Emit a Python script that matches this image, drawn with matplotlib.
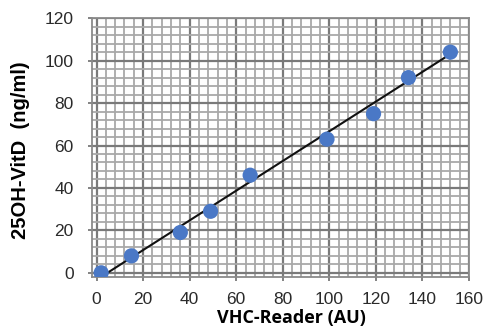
import matplotlib
matplotlib.use('Agg')
import matplotlib.pyplot as plt
from matplotlib.ticker import MultipleLocator
import numpy as np

plt.rcParams['font.family'] = 'Liberation Sans'

# values
vhc_reader = [2, 15, 36, 49, 66, 99, 119, 134, 152]
vitd_ngml = [0, 8, 19, 29, 46, 63, 75, 92, 104]
fit_slope = 0.70
fit_intercept = -3.3
fit_x = [4.7, 152]

x_ticks = [0, 20, 40, 60, 80, 100, 120, 140, 160]
y_ticks = [0, 20, 40, 60, 80, 100, 120]

fig = plt.figure(figsize=(4.86, 3.31), dpi=100)
ax = fig.add_axes([0.189, 0.163, 0.776, 0.782])

ax.set_xlim(-2, 160)
ax.set_ylim(-2, 120)
ax.xaxis.set_minor_locator(MultipleLocator(4))
ax.yaxis.set_minor_locator(MultipleLocator(4))
ax.set_xticks(x_ticks)
ax.set_yticks(y_ticks)

ax.grid(which='minor', color='#a9a9a9', linewidth=1.3)
ax.grid(which='major', color='#7a7a7a', linewidth=1.6)
ax.set_axisbelow(True)

for s in ax.spines.values():
    s.set_color('#8a8a8a')
    s.set_linewidth(1.3)

ax.tick_params(which='major', length=3, width=1.3, color='#7a7a7a',
               labelsize=12.5, labelcolor='#2a2a2a')
ax.tick_params(axis='x', which='major', pad=8)
ax.tick_params(axis='y', which='major', pad=10)
ax.tick_params(which='minor', length=0)

fx = np.array(fit_x)
ax.plot(fx, fit_slope * fx + fit_intercept, color='#111111', linewidth=1.5, zorder=3)
ax.scatter(vhc_reader, vitd_ngml, s=120, color='#4a78c6', edgecolors='none', zorder=4)

ax.set_ylabel('25OH-VitD  (ng/ml)', fontsize=14.5, fontweight='bold')
ax.yaxis.set_label_coords(-0.165, 0.49)
ax.set_xlabel('VHC-Reader (AU)', fontsize=13, fontweight='bold',
              family='Open Sans')
ax.xaxis.set_label_coords(0.53, -0.122)

fig.savefig('out.png', dpi=100)
